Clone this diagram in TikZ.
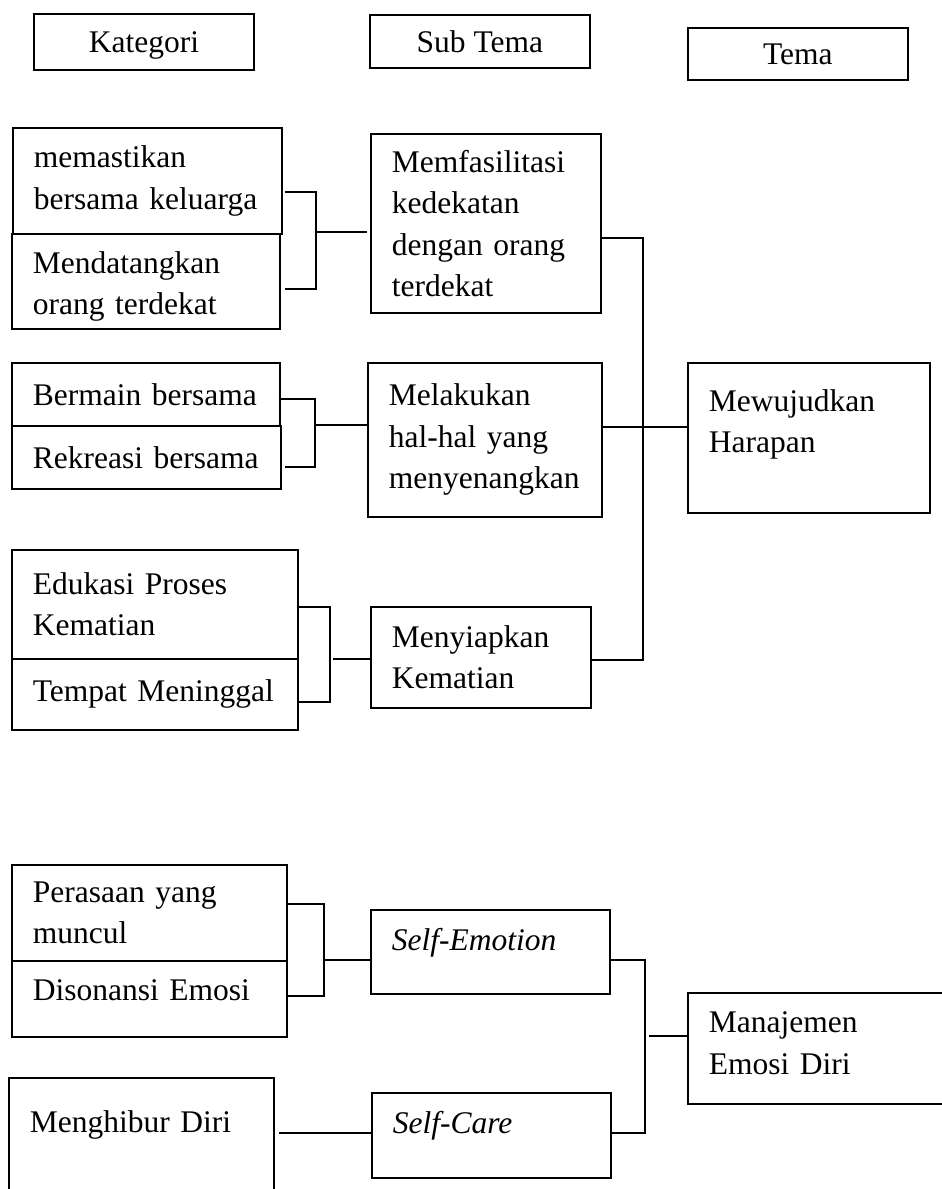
\documentclass[tikz,border=0pt]{standalone}
\usepackage{fontspec}
\setmainfont{Liberation Serif}
\usepackage{tikz}
\usetikzlibrary{positioning}

\begin{document}
\begin{tikzpicture}[x=1pt, y=-1pt,
    font=\fontsize{31.5}{41.5}\selectfont,
    judul/.style={draw, line width=1.8pt, anchor=north west, inner sep=0pt,
        minimum width=220pt, text height=21.5pt, text depth=0pt},
    kotak/.style 2 args={draw, line width=1.8pt, anchor=north west, align=left,
        inner xsep=21pt, inner ysep=0pt, text width=#1, minimum height=#2},
    garis/.style={line width=1.8pt}]
    \clip (0,0) rectangle (942,1189);

    % header
    \node[judul, minimum height=56pt] (kategori) at (33,13) {Kategori};
    \node[judul, minimum height=53pt] (subtema) at (369,14) {Sub Tema};
    \node[judul, minimum height=52pt] (tema) at (687,27) {Tema};

    % Mewujudkan Harapan
    \node[kotak={227pt}{106pt}] (memastikan) at (12,127) {memastikan\\bersama~keluarga};
    \node[kotak={226pt}{95pt}, text depth=38.5pt] (datangkan) at (11,233) {Mendatangkan\\orang terdekat};
    \node[kotak={188pt}{179pt}] (fasilitasi) at (370,133) {Memfasilitasi\\kedekatan\\dengan orang\\terdekat};

    \node[kotak={226pt}{63pt}] (bermain) at (11,362) {Bermain~bersama};
    \node[kotak={227pt}{63pt}] (rekreasi) at (11,425) {Rekreasi~bersama};
    \node[kotak={192pt}{154pt}] (melakukan) at (367,362) {Melakukan\\hal-hal yang\\menyenangkan};

    \node[kotak={244pt}{109pt}] (edukasi) at (11,549) {Edukasi Proses\\Kematian};
    \node[kotak={244pt}{71pt}] (tempat) at (11,658) {Tempat~Meninggal};
    \node[kotak={178pt}{101pt}] (menyiapkan) at (370,606) {Menyiapkan\\Kematian};

    \node[kotak={200pt}{150pt}, text depth=75.5pt] (harapan) at (687,362) {Mewujudkan\\Harapan};

    \coordinate (jA) at (316,232);
    \draw[garis] ([xshift=2pt,yshift=-11pt]memastikan.east) -| (jA) |- ([xshift=4pt,yshift=-7.5pt]datangkan.east);
    \draw[garis] (jA) -- ([xshift=-3pt]fasilitasi.west |- jA);

    \coordinate (jB) at (315,425);
    \draw[garis] ([xshift=-2pt,yshift=-4.5pt]bermain.east) -| (jB) |- ([xshift=3pt,yshift=-9.5pt]rekreasi.east);
    \draw[garis] (jB) -- (melakukan.west |- jB);

    \coordinate (jC) at (330,659);
    \draw[garis] ([yshift=-2.5pt]edukasi.east) -| (jC) |- ([yshift=-7.5pt]tempat.east);
    \draw[garis] ([xshift=3pt]jC) -- (menyiapkan.west |- jC);

    \coordinate (jD) at (643,427);
    \draw[garis] ([yshift=-14.5pt]fasilitasi.east) -| (jD) |- ([yshift=-2.5pt]menyiapkan.east);
    \draw[garis] (melakukan.east |- jD) -- (harapan.west |- jD);

    % Manajemen Emosi Diri
    \node[kotak={233pt}{96pt}] (perasaan) at (11,864) {Perasaan yang\\muncul};
    \node[kotak={233pt}{76pt}, text depth=17.5pt] (disonansi) at (11,960) {Disonansi Emosi};
    \node[kotak={197pt}{84pt}, text depth=25.5pt] (emotion) at (370,909) {\textit{Self-Emotion}};

    \node[kotak={223pt}{140pt}, text depth=53.5pt] (hibur) at (8,1077) {Menghibur Diri};
    \node[kotak={197pt}{85pt}, text depth=26.5pt] (care) at (371,1092) {\textit{Self-Care}};

    \node[kotak={228pt}{111pt}, text depth=52.5pt] (manajemen) at (687,992) {Manajemen\\Emosi Diri};

    \coordinate (jE) at (324,960);
    \draw[garis] ([yshift=9pt]perasaan.east) -| (jE) |- ([yshift=3pt]disonansi.east);
    \draw[garis] (jE) -- (emotion.west |- jE);

    \draw[garis] ([xshift=4pt,yshift=15pt]hibur.east) -- ([yshift=2.5pt]care.west);

    \coordinate (jF) at (645,1036);
    \draw[garis] ([yshift=-8pt]emotion.east) -| (jF) |- ([yshift=2.5pt]care.east);
    \draw[garis] ([xshift=4pt]jF) -- (manajemen.west |- jF);
\end{tikzpicture}
\end{document}
